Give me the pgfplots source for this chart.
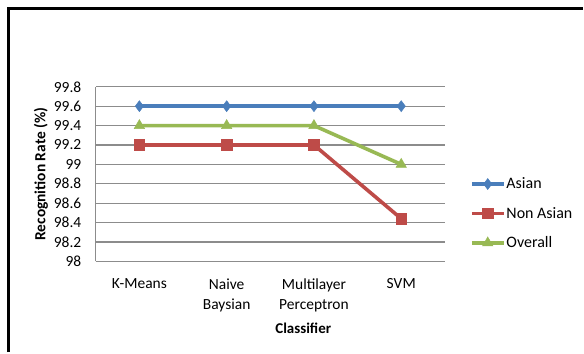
\documentclass[border=0pt]{standalone}
\usepackage{pgfplots}
\pgfplotsset{compat=1.18}
\usepackage{fontspec}
\setmainfont{Carlito}

\definecolor{asian}{HTML}{4A7EBB}
\definecolor{nonasian}{HTML}{BE4B48}
\definecolor{overall}{HTML}{98B954}
\definecolor{gridgray}{HTML}{8C8C8C}

\begin{document}
\begin{tikzpicture}[x=1pt,y=1pt]
\begin{axis}[
  at={(0,0)}, anchor=south west,
  scale only axis,
  width=350pt, height=175pt,
  xmin=-0.5, xmax=3.5,
  ymin=98, ymax=99.8,
  ytick={98,98.2,...,99.8},
  xtick={0,1,2,3},
  xticklabels={K-Means,{Naive\\Baysian},{Multilayer\\Perceptron},SVM},
  xticklabel style={align=center, font=\fontsize{15.5}{20}\selectfont, yshift=-14pt},
  yticklabel style={font=\fontsize{15.5}{18}\selectfont, xshift=-11pt},
  /pgf/number format/assume math mode=true,
  yticklabel={\pgfmathprintnumber[fixed,precision=1]{\tick}},
  major tick length=0pt,
  axis x line*=bottom, axis y line*=left,
  axis line style={gridgray, line width=1.2pt, -},
  ymajorgrids, grid style={gridgray, line width=1.2pt},
  xlabel={\textbf{Classifier}},
  xlabel style={font=\fontsize{15}{18}\selectfont, xshift=33pt, yshift=-4pt},
  ylabel={\textbf{Recognition Rate (\%)}},
  ylabel style={font=\fontsize{15.5}{18}\selectfont, yshift=-1pt},
  legend style={at={(1.0714,0.274)}, anchor=west, draw=none, fill=none,
    font=\fontsize{16}{19}\selectfont, row sep=15pt, inner sep=0pt,
    nodes={inner sep=1pt}},
  legend cell align=left,
  legend image code/.code={%
    \draw[mark repeat=2,mark phase=2] plot coordinates {(0pt,0pt) (16pt,0pt) (32pt,0pt)};},
  every axis plot/.append style={line width=3.6pt},
  clip=false,
]
\addplot[asian, mark=diamond*, mark size=5.5pt, mark options={line width=0.5pt}]
  coordinates {(0,99.6) (1,99.6) (2,99.6) (3,99.6)};
\addlegendentry{Asian}
\addplot[nonasian, mark=square*, mark size=5.3pt, mark options={line width=0.5pt}]
  coordinates {(0,99.2) (1,99.2) (2,99.2) (3,98.44)};
\addlegendentry{Non Asian}
\addplot[overall, mark=triangle*, mark size=6pt, mark options={line width=0.5pt}]
  coordinates {(0,99.4) (1,99.4) (2,99.4) (3,99.0)};
\addlegendentry{Overall}
\end{axis}
% outer frame (top and left edges)
\draw[line width=3pt, black] (-87,-91) -- (-87,253) -- (488,253);
\useasboundingbox (-96,-91) rectangle (488,262);
\end{tikzpicture}
\end{document}
